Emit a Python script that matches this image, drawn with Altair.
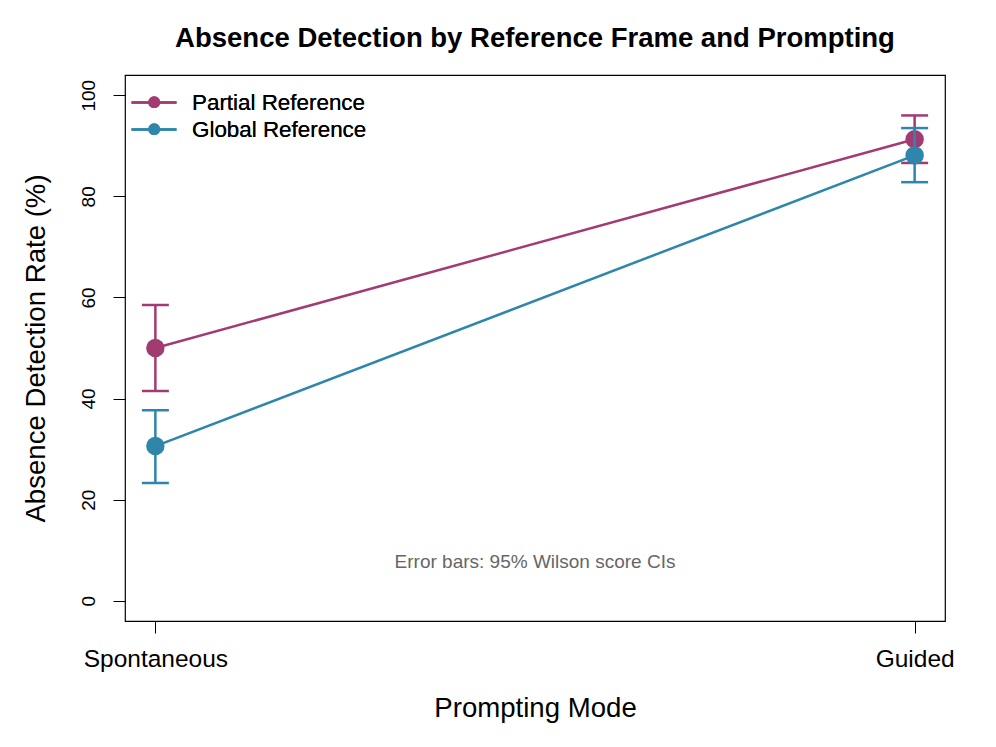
import altair as alt
import pandas as pd

groups = ["Partial Reference", "Global Reference"]
colors = ["#A23B72", "#2E86AB"]
modes = ["Spontaneous", "Guided"]
mode_pos = [1, 2]

rate_partial = [50.0, 91.3]
lo_partial = [41.5, 86.6]
hi_partial = [58.5, 96.0]

rate_global = [30.6, 88.1]
lo_global = [23.3, 82.8]
hi_global = [37.7, 93.5]

note_text = ["Error bars: 95% Wilson score CIs"]
note_pos = [1.5, 7.7]

rows = []
for g, r, lo, hi in [(groups[0], rate_partial, lo_partial, hi_partial),
                     (groups[1], rate_global, lo_global, hi_global)]:
    for m, p, rv, l, h in zip(modes, mode_pos, r, lo, hi):
        rows.append({"group": g, "mode": m, "pos": p, "rate": rv, "lo": l, "hi": h})
df = pd.DataFrame(rows)

label_expr = " : ".join(
    [f"datum.value == {p} ? '{m}'" for p, m in zip(mode_pos, modes)]) + " : ''"

xscale = alt.Scale(domain=[0.96, 2.04], nice=False, zero=False)
yscale = alt.Scale(domain=[-4, 104], nice=False, zero=False)

xaxis = alt.Axis(values=mode_pos, labelExpr=label_expr, title="Prompting Mode",
                 grid=False, domain=False, tickColor="black", tickSize=12,
                 labelFontSize=24.5, labelColor="black", labelPadding=14,
                 titleFontSize=27.6, titleFontWeight="normal", titleColor="black",
                 titlePadding=24, labelFont="Liberation Sans", titleFont="Liberation Sans")
yaxis = alt.Axis(values=[0, 20, 40, 60, 80, 100], title="Absence Detection Rate (%)",
                 grid=False, domain=False, tickColor="black", tickSize=12,
                 labelFontSize=19, labelColor="black", labelAngle=270,
                 labelAlign="center", labelBaseline="bottom", labelPadding=15,
                 titleFontSize=27.6, titleFontWeight="normal", titleColor="black",
                 titlePadding=29, labelFont="Liberation Sans", titleFont="Liberation Sans")

base = alt.Chart(df)
X = alt.X("pos:Q", scale=xscale, axis=xaxis)
Y = alt.Y("rate:Q", scale=yscale, axis=yaxis)

stroke_scale = alt.Scale(domain=groups, range=colors)

layers = []
for g, c in zip(groups, colors):
    sub = base.transform_filter(alt.datum.group == g)
    layers.append(sub.mark_rule(strokeWidth=2.5, color=c, opacity=1).encode(
        x=X, y=alt.Y("lo:Q", scale=yscale, axis=yaxis), y2="hi:Q"))
    layers.append(sub.mark_tick(orient="horizontal", size=27, thickness=2.5, color=c, opacity=1).encode(
        x=X, y=alt.Y("lo:Q", scale=yscale, axis=yaxis)))
    layers.append(sub.mark_tick(orient="horizontal", size=27, thickness=2.5, color=c, opacity=1).encode(
        x=X, y=alt.Y("hi:Q", scale=yscale, axis=yaxis)))
    layers.append(sub.mark_line(strokeWidth=2.5).encode(
        x=X, y=Y,
        stroke=alt.Stroke("group:N", scale=stroke_scale, legend=alt.Legend(
            title=None, orient="none", legendX=17.5, legendY=16,
            symbolType="M-2.25,0L2.25,0", symbolSize=400, symbolStrokeWidth=2.5,
            labelFontSize=22.4, labelColor="black", labelFont="Liberation Sans",
            labelLimit=0, labelOffset=26.5, rowPadding=4, padding=0))))
    layers.append(sub.mark_circle(size=340, opacity=1).encode(
        x=X, y=Y,
        fill=alt.Fill("group:N", scale=alt.Scale(domain=groups, range=colors), legend=alt.Legend(
            title=None, orient="none", legendX=18, legendY=16,
            symbolType="circle", symbolSize=140, symbolStrokeWidth=0, symbolOpacity=1,
            labelOpacity=0, labelFontSize=22.4, labelLimit=0, labelOffset=18,
            labelExpr="''", rowPadding=4, padding=0))))

note_df = pd.DataFrame({"text": note_text, "x": [note_pos[0]], "y": [note_pos[1]]})
note = alt.Chart(note_df).mark_text(fontSize=19, color="#666666", font="Liberation Sans").encode(
    x=alt.X("x:Q", scale=xscale, axis=xaxis), y=alt.Y("y:Q", scale=yscale, axis=yaxis), text="text:N")
layers.append(note)

chart = alt.layer(*layers).resolve_scale(stroke="independent", fill="independent").properties(
    width=820, height=546,
    background="white",
    title=alt.Title("Absence Detection by Reference Frame and Prompting", fontSize=27.5,
                    fontWeight="bold", font="Liberation Sans", color="black",
                    anchor="middle", offset=23),
    autosize=alt.AutoSizeParams(type="none"),
    padding={"left": 117, "top": 67, "right": 43, "bottom": 118},
).configure_view(stroke="black", strokeWidth=1.2)

chart.save("out.html", embed_options={"renderer": "svg", "actions": False})
